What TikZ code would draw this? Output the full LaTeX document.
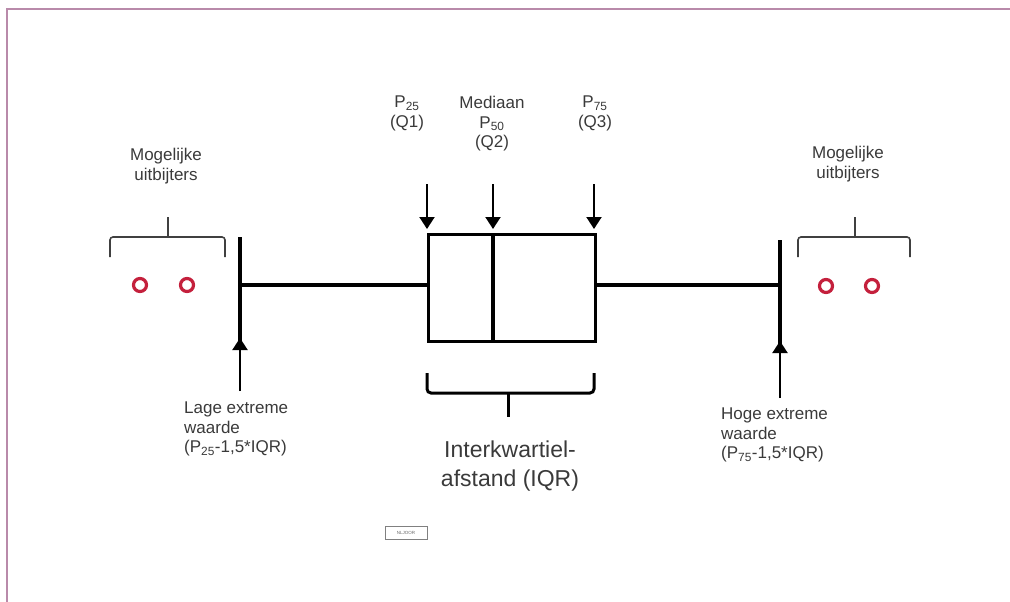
\documentclass[tikz,border=0pt]{standalone}
\usepackage{fontspec}
\setmainfont{Liberation Sans}
\usetikzlibrary{arrows.meta}
\definecolor{frame}{HTML}{B98AAA}
\definecolor{txt}{HTML}{3A3A3A}
\definecolor{outl}{HTML}{C4203C}
\tikzset{
  lbl/.style={inner sep=0pt, text=txt, font=\fontsize{17}{19.5}\selectfont, align=center},
  lbll/.style={lbl, align=left, anchor=north west},
  big/.style={inner sep=0pt, text=txt, font=\fontsize{23}{29}\selectfont, align=center, anchor=north},
  thick3/.style={line width=3.2pt, black},
  ptr/.style={line width=2pt, -{Triangle[width=15pt,length=12pt]}},
  brace/.style={line width=1.6pt, draw=black!75, rounded corners=3pt},
  iqrbrace/.style={line width=3pt, draw=black, rounded corners=4pt},
  outlier/.style={circle, draw=outl, line width=3.2pt, minimum size=13pt, inner sep=0pt},
}
\begin{document}
\begin{tikzpicture}[x=1pt,y=-1pt]
\useasboundingbox (0,0) rectangle (1010,602);
% frame
\draw[frame, line width=2pt] (7,602) -- (7,9) -- (1010,9);
% box
\node[draw, thick3, minimum width=167pt, minimum height=107pt, inner sep=0pt, anchor=north west] (box) at (427,233) {};
\coordinate (medtop) at (493,233);
\coordinate (medbot) at (493,340);
\draw[thick3] (medtop) -- (medbot);
% whiskers
\coordinate (lwt) at (240,237);
\coordinate (lwb) at (240,342);
\coordinate (lwm) at (240,285);
\coordinate (rwt) at (780,240);
\coordinate (rwb) at (780,345);
\coordinate (rwm) at (780,285);
\draw[thick3] (lwt) -- (lwb);
\draw[thick3] (rwt) -- (rwb);
\draw[thick3] (lwm) -- (box.west |- lwm);
\draw[thick3] (box.east |- rwm) -- (rwm);
% top arrows
\coordinate (a1) at (427,184);
\coordinate (a2) at (493,184);
\coordinate (a3) at (594,184);
\draw[ptr] (a1) -- (427,229);
\draw[ptr] (a2) -- (493,229);
\draw[ptr] (a3) -- (594,229);
% bottom arrows
\coordinate (b1) at (240,391);
\coordinate (b2) at (780,398);
\draw[ptr] (b1) -- (240,338);
\draw[ptr] (b2) -- (780,341);
% labels top
\node[lbl, anchor=north] (p25) at (407,96) {P\textsubscript{25}\\(Q1)};
\node[lbl, anchor=north] (p50) at (492,96) {Mediaan\\P\textsubscript{50}\\(Q2)};
\node[lbl, anchor=north] (p75) at (595,96) {P\textsubscript{75}\\(Q3)};
% outlier labels
\node[lbl, anchor=north] (mogl) at (166,148) {Mogelijke\\uitbijters};
\node[lbl, anchor=north] (mogr) at (848,146) {Mogelijke\\uitbijters};
% braces
\draw[brace] (110,257) -- (110,237) -- (168,237) -- (225,237) -- (225,257);
\draw[brace] (168,237) -- (168,217);
\draw[brace] (798,257) -- (798,237) -- (855,237) -- (910,237) -- (910,257);
\draw[brace] (855,237) -- (855,217);
% outliers
\node[outlier] (o1) at (140,285) {};
\node[outlier] (o2) at (187,285) {};
\node[outlier] (o3) at (826,286) {};
\node[outlier] (o4) at (872,286) {};
% extreme labels
\node[lbll] (lage) at (184,402) {Lage extreme\\waarde\\(P\textsubscript{25}-1,5*IQR)};
\node[lbll] (hoge) at (721,408) {Hoge extreme\\waarde\\(P\textsubscript{75}-1,5*IQR)};
% IQR brace
\draw[iqrbrace] (box.south west |- 0,373) -- (427,393) -- (508,393) -- (594,393) -- (594,373);
\draw[iqrbrace] (508,393) -- (508,417);
\node[big] (iqr) at (510,441) {Interkwartiel-\\afstand (IQR)};
% small watermark box
\node[draw=black!50, line width=0.6pt, minimum width=42pt, minimum height=13pt, inner sep=0pt, font=\fontsize{4.5}{5}\selectfont, text=black!60] (wm) at (406,533) {NLJOOR};
\end{tikzpicture}
\end{document}
